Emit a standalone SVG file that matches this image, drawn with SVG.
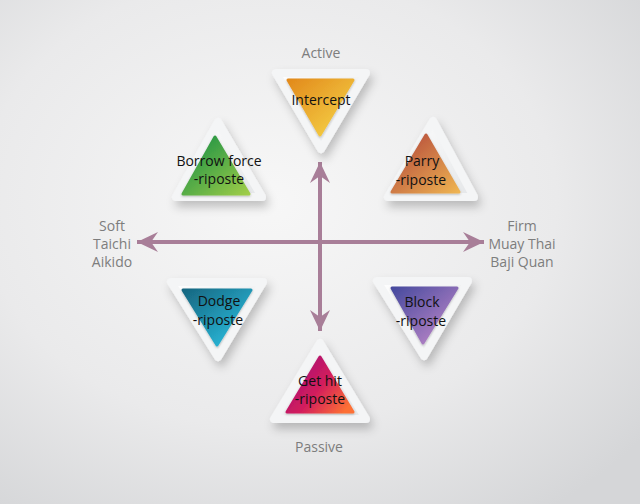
<svg xmlns="http://www.w3.org/2000/svg" width="640" height="504" viewBox="0 0 640 504">
<defs>
<radialGradient id="bg" cx="0.42" cy="0.4" r="0.75">
<stop offset="0" stop-color="#f7f7f7"/><stop offset="0.6" stop-color="#eaeaeb"/><stop offset="1" stop-color="#d5d6d8"/>
</radialGradient>
<linearGradient id="plate" x1="0" y1="0" x2="1" y2="1">
<stop offset="0" stop-color="#ffffff"/><stop offset="1" stop-color="#e4e6e8"/>
</linearGradient>
<linearGradient id="gYel" x1="0" y1="0" x2="1" y2="1"><stop offset="0" stop-color="#e28a1c"/><stop offset="1" stop-color="#f7d84a"/></linearGradient>
<linearGradient id="gGrn" x1="0" y1="0" x2="1" y2="1"><stop offset="0" stop-color="#0f8c44"/><stop offset="1" stop-color="#a0cd48"/></linearGradient>
<linearGradient id="gRed" x1="0" y1="0" x2="1" y2="1"><stop offset="0" stop-color="#b0423a"/><stop offset="1" stop-color="#eeb452"/></linearGradient>
<linearGradient id="gBlu" x1="0" y1="0" x2="1" y2="1"><stop offset="0" stop-color="#176680"/><stop offset="1" stop-color="#2cc6e8"/></linearGradient>
<linearGradient id="gPur" x1="0" y1="0" x2="1" y2="1"><stop offset="0" stop-color="#464a9e"/><stop offset="1" stop-color="#c88ccc"/></linearGradient>
<linearGradient id="gMag" x1="0.1" y1="0.2" x2="1" y2="0.8"><stop offset="0" stop-color="#a80e74"/><stop offset="0.5" stop-color="#d41f5c"/><stop offset="1" stop-color="#fd7034"/></linearGradient>
<filter id="sh" x="-30%" y="-30%" width="160%" height="170%">
<feDropShadow dx="3" dy="6" stdDeviation="5" flood-color="#000" flood-opacity="0.22"/>
</filter>
<filter id="ish" x="-10%" y="-10%" width="120%" height="120%">
<feDropShadow dx="0" dy="1" stdDeviation="1" flood-color="#000" flood-opacity="0.25"/>
</filter>
<marker id="ah" markerUnits="userSpaceOnUse" markerWidth="24" markerHeight="22" viewBox="-22 -11 24 22" refX="0" refY="0" orient="auto-start-reverse">
<path d="M0,0 L-21,-10 L-14,0 L-21,10 Z" fill="#a87e98"/>
</marker>
</defs>
<style>
.plate{fill:url(#plate);stroke:#f4f5f6;stroke-width:8;stroke-linejoin:round;filter:url(#sh)}
.in{stroke-width:3;stroke-linejoin:round;filter:url(#ish)}
.t{font-family:"Open Sans","Liberation Sans",sans-serif;font-size:14px;fill:#111;text-anchor:middle}
.lbl{font-family:"Open Sans","Liberation Sans",sans-serif;font-size:14px;fill:#7d7d7d;text-anchor:middle}
.ax{stroke:#a87e98;stroke-width:4;fill:none}
</style>
<rect width="640" height="504" fill="url(#bg)"/>
<g id="connectors">
<line class="ax" x1="137" y1="242" x2="484" y2="242" marker-start="url(#ah)" marker-end="url(#ah)"/>
<line class="ax" x1="320" y1="162" x2="320" y2="331" marker-start="url(#ah)" marker-end="url(#ah)"/>
</g>
<g id="intercept">
<polygon class="plate" points="276,73 366,73 321,149"/>
<polygon class="in" points="288,80 353,80 320,135" fill="url(#gYel)" stroke="url(#gYel)"/>
<text class="t" x="321" y="105">Intercept</text>
</g>
<g id="borrow">
<polygon class="plate" points="218,122 176,197 262,197"/>
<polygon class="in" points="215,137 183,194 249,194" fill="url(#gGrn)" stroke="url(#gGrn)"/>
<text class="t" x="219" y="166">Borrow force</text>
<text class="t" x="219" y="184">-riposte</text>
</g>
<g id="parry">
<polygon class="plate" points="433,121 388,197 474,197"/>
<polygon class="in" points="426,135 392,192 459,192" fill="url(#gRed)" stroke="url(#gRed)"/>
<text class="t" x="422" y="166">Parry</text>
<text class="t" x="421" y="185">-riposte</text>
</g>
<g id="dodge">
<polygon class="plate" points="171,282 263,282 218,357"/>
<polygon class="in" points="183,290 251,290 217,345" fill="url(#gBlu)" stroke="url(#gBlu)"/>
<text class="t" x="219" y="306">Dodge</text>
<text class="t" x="218" y="325">-riposte</text>
</g>
<g id="block">
<polygon class="plate" points="377,281 468,281 424,356"/>
<polygon class="in" points="392,288 457,288 423,343" fill="url(#gPur)" stroke="url(#gPur)"/>
<text class="t" x="422" y="307">Block</text>
<text class="t" x="421" y="326">-riposte</text>
</g>
<g id="gethit">
<polygon class="plate" points="320,343 274,419 366,419"/>
<polygon class="in" points="320,357 287,412 353,412" fill="url(#gMag)" stroke="url(#gMag)"/>
<text class="t" x="320" y="386">Get hit</text>
<text class="t" x="320" y="404">-riposte</text>
</g>
<g id="labels">
<text class="lbl" x="321" y="58">Active</text>
<text class="lbl" x="319" y="452">Passive</text>
<text class="lbl" x="112" y="231">Soft</text>
<text class="lbl" x="112" y="249">Taichi</text>
<text class="lbl" x="112" y="267">Aikido</text>
<text class="lbl" x="522" y="231">Firm</text>
<text class="lbl" x="522" y="249">Muay Thai</text>
<text class="lbl" x="522" y="267">Baji Quan</text>
</g>
</svg>
